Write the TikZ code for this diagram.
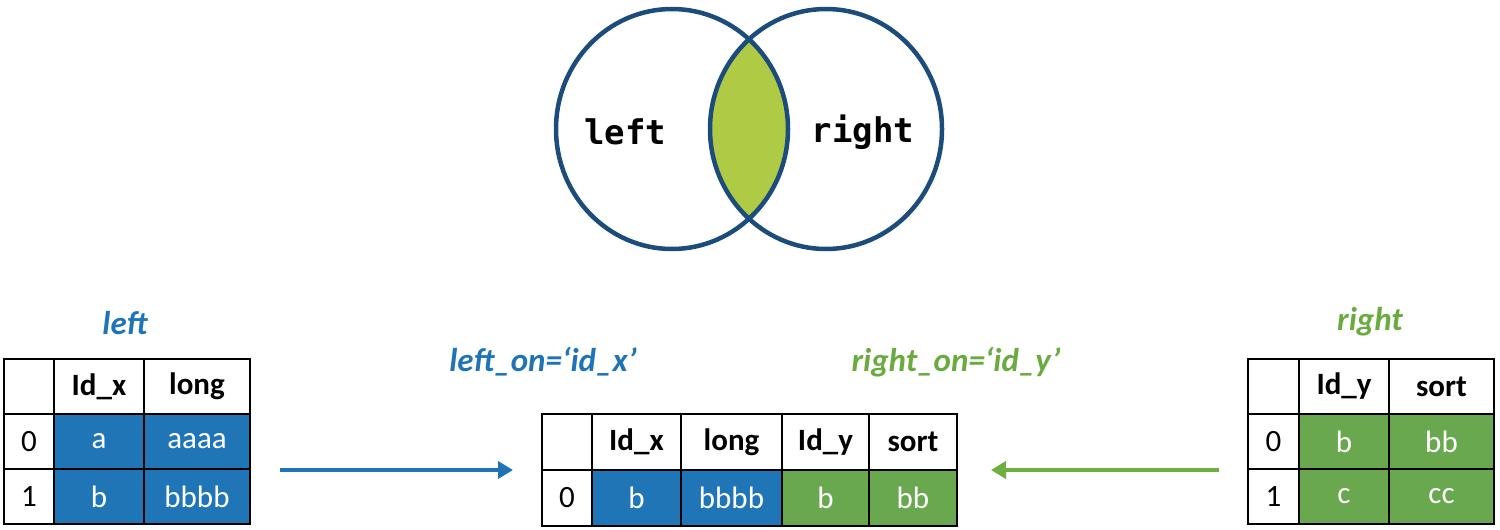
\documentclass[tikz,border=0pt]{standalone}
\usepackage{fontspec}
\setmainfont{Carlito}
\newfontfamily\vennfont{DejaVu Sans Mono}
\usetikzlibrary{arrows.meta}
\definecolor{tblue}{HTML}{1F75B6}
\definecolor{tgreen}{HTML}{6AA84F}
\definecolor{lblue}{HTML}{1F73B7}
\definecolor{lgreen}{HTML}{6AAB3F}
\definecolor{agreen}{HTML}{6DB040}
\definecolor{vstroke}{HTML}{1B4C7C}
\definecolor{lens}{HTML}{AFCA44}
\begin{document}
\begin{tikzpicture}[x=1pt,y=-1pt,
  cell/.style={draw=black, line width=1.5pt, inner sep=0pt, anchor=center,
    minimum height=55pt, font=\fontsize{31}{31}\selectfont},
  hdr/.style={cell, font=\fontsize{31}{31}\selectfont\bfseries},
  bcell/.style={cell, fill=tblue, text=white},
  gcell/.style={cell, fill=tgreen, text=white},
  title/.style={font=\fontsize{33}{33}\selectfont\bfseries\itshape, inner sep=0pt},
  vlabel/.style={font=\fontsize{34}{34}\selectfont\vennfont\bfseries, inner sep=0pt},
  vcirc/.style={draw=vstroke, line width=4.5pt},
  barrow/.style={draw=lblue, line width=4pt, -{Triangle[length=15pt,width=17pt]}},
  garrow/.style={draw=agreen, line width=4pt, -{Triangle[length=15pt,width=17pt]}}
]
\useasboundingbox (0,0) rectangle (1500,530);

% Venn diagram
\begin{scope}
  \clip (672,129) ellipse [x radius=116, y radius=120];
  \fill[lens] (826,129) ellipse [x radius=116, y radius=120];
\end{scope}
\draw[vcirc] (672,129) ellipse [x radius=116, y radius=120];
\draw[vcirc] (826,129) ellipse [x radius=116, y radius=120];
\node[vlabel] (vl) at (625,132) {left};
\node[vlabel] (vr) at (863,132) {right};

% Left table
\node[title, text=lblue] (tl) at (125,323) {left};
\node[cell, minimum width=50pt] (L00) at (29,386.5) {};
\node[hdr, minimum width=90pt] (L01) at (99,386.5) {Id\_x};
\node[hdr, minimum width=106pt] (L02) at (197,386.5) {long};
\node[cell, minimum width=50pt] (L10) at (29,441.5) {0};
\node[bcell, minimum width=90pt] (L11) at (99,441.5) {a};
\node[bcell, minimum width=106pt] (L12) at (197,441.5) {aaaa};
\node[cell, minimum width=50pt] (L20) at (29,496.5) {1};
\node[bcell, minimum width=90pt] (L21) at (99,496.5) {b};
\node[bcell, minimum width=106pt] (L22) at (197,496.5) {bbbb};

% Middle table
\node[title, text=lblue] (lon) at (543,362) {left\_on=‘id\_x’};
\node[title, text=lgreen] (ron) at (956,362) {right\_on=‘id\_y’};
\node[cell, minimum width=50pt, minimum height=56pt] (M00) at (567,442) {};
\node[hdr, minimum width=89pt, minimum height=56pt] (M01) at (636.5,442) {Id\_x};
\node[hdr, minimum width=101pt, minimum height=56pt] (M02) at (731.5,442) {long};
\node[hdr, minimum width=87pt, minimum height=56pt] (M03) at (825.5,442) {Id\_y};
\node[hdr, minimum width=88pt, minimum height=56pt] (M04) at (913,442) {sort};
\node[cell, minimum width=50pt, minimum height=56pt] (M10) at (567,498) {0};
\node[bcell, minimum width=89pt, minimum height=56pt] (M11) at (636.5,498) {b};
\node[bcell, minimum width=101pt, minimum height=56pt] (M12) at (731.5,498) {bbbb};
\node[gcell, minimum width=87pt, minimum height=56pt] (M13) at (825.5,498) {b};
\node[gcell, minimum width=88pt, minimum height=56pt] (M14) at (913,498) {bb};

% Right table
\node[title, text=lgreen] (tr) at (1370,322) {right};
\node[cell, minimum width=51pt] (R00) at (1273.5,386.5) {};
\node[hdr, minimum width=90pt] (R01) at (1344,386.5) {Id\_y};
\node[hdr, minimum width=105pt] (R02) at (1441.5,386.5) {sort};
\node[cell, minimum width=51pt] (R10) at (1273.5,441.5) {0};
\node[gcell, minimum width=90pt] (R11) at (1344,441.5) {b};
\node[gcell, minimum width=105pt] (R12) at (1441.5,441.5) {bb};
\node[cell, minimum width=51pt] (R20) at (1273.5,496.5) {1};
\node[gcell, minimum width=90pt] (R21) at (1344,496.5) {c};
\node[gcell, minimum width=105pt] (R22) at (1441.5,496.5) {cc};

% Arrows
\coordinate (ba1) at (280,470);
\coordinate (ba2) at (513,470);
\coordinate (ga1) at (1219,470);
\coordinate (ga2) at (991,470);
\draw[barrow] (ba1) -- (ba2);
\draw[garrow] (ga1) -- (ga2);
\end{tikzpicture}
\end{document}
